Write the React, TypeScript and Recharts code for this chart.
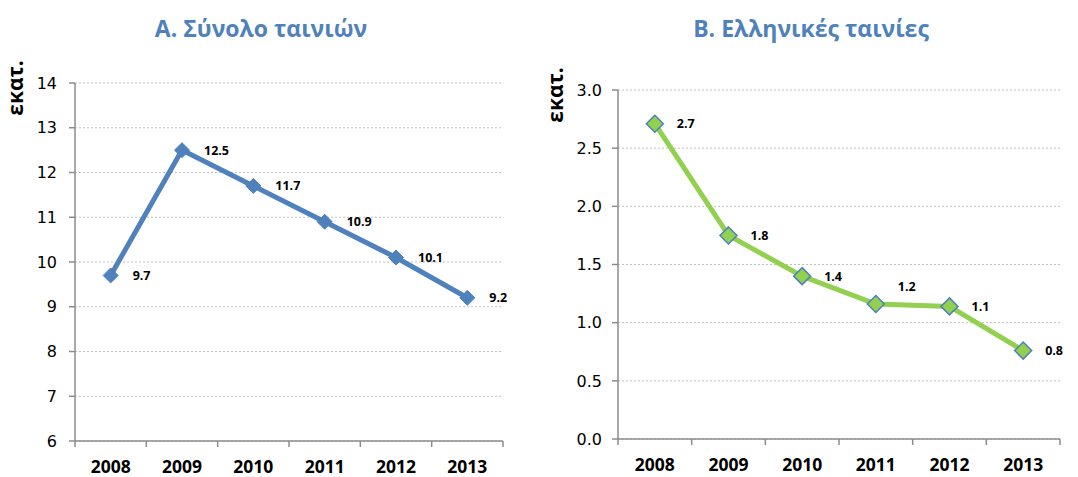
import React from 'react';
import { LineChart, Line, XAxis, YAxis, CartesianGrid, LabelList, Label } from 'recharts';

const years = ['2008', '2009', '2010', '2011', '2012', '2013'];
const totalFilms = [9.7, 12.5, 11.7, 10.9, 10.1, 9.2];
const greekFilms = [2.71, 1.75, 1.4, 1.16, 1.14, 0.76];
const totalTicks = [6, 7, 8, 9, 10, 11, 12, 13, 14];
const greekTicks = [0, 0.5, 1, 1.5, 2, 2.5, 3];
const titleA = 'Α. Σύνολο ταινιών';
const titleB = 'Β. Ελληνικές ταινίες';
const unitLabel = 'εκατ.';

const dataA = years.map((y, i) => ({ year: y, v: totalFilms[i] }));
const dataB = years.map((y, i) => ({ year: y, v: greekFilms[i] }));

const AXIS = '#8c8c8c';
const BLUE = '#4F81BD';
const GREEN = '#92D050';
const LABEL_FONT = "'Open Sans', 'Noto Sans', sans-serif";
const TICK_FONT = "'DejaVu Sans', sans-serif";

const makeXTick = (count: number) => (props: any) => {
  const { x, y, payload, index } = props;
  const off = payload && payload.offset ? payload.offset : 0;
  return (
    <g>
      <line x1={x - off} x2={x - off} y1={y} y2={y + 6} stroke={AXIS} strokeWidth={1.5} />
      {index === count - 1 ? (
        <line x1={x + off} x2={x + off} y1={y} y2={y + 6} stroke={AXIS} strokeWidth={1.5} />
      ) : null}
      <text x={x} y={y + 32} textAnchor="middle" fontFamily={LABEL_FONT} fontWeight={700} fontSize={17.5} fill="#000">
        {payload.value}
      </text>
    </g>
  );
};

const diamond = (fill: string, stroke: string, r: number, sw: number) => (props: any) => {
  const { cx, cy, index } = props;
  if (cx == null || cy == null) return <g key={index} />;
  return (
    <path
      key={index}
      d={`M${cx},${cy - r}L${cx + r},${cy}L${cx},${cy + r}L${cx - r},${cy}Z`}
      fill={fill}
      stroke={stroke}
      strokeWidth={sw}
    />
  );
};

const makeLabel = (liftIndex: number) => (props: any) => {
  const vb = props.viewBox || {};
  const x = vb.x != null ? vb.x : props.x;
  const y = vb.y != null ? vb.y : props.y;
  const dy = props.index === liftIndex ? -17 : 0;
  return (
    <text x={x + 22} y={y + dy} dy="0.35em" fontFamily={LABEL_FONT} fontWeight={700} fontSize={12.5} fill="#000">
      {Number(props.value).toFixed(1)}
    </text>
  );
};

const unitContent = (props: any) => {
  const vb = props.viewBox || {};
  const cx = (vb.x || 0) + 16;
  const cy = (vb.y || 0) + 5;
  return (
    <text
      x={cx}
      y={cy}
      transform={`rotate(-90 ${cx} ${cy})`}
      textAnchor="middle"
      dy="0.35em"
      fontFamily={LABEL_FONT}
      fontWeight={700}
      fontSize={21}
      fill="#000"
    >
      {unitLabel}
    </text>
  );
};

const titleStyle = (left: number, width: number): React.CSSProperties => ({
  position: 'absolute',
  left,
  width,
  top: 13,
  textAlign: 'center',
  fontFamily: LABEL_FONT,
  fontWeight: 700,
  fontSize: 23,
  lineHeight: '30px',
  color: BLUE,
});

export default function App() {
  return (
    <div style={{ position: 'absolute', left: 0, top: 0, width: 1078, height: 477, background: '#fff' }}>
      <div style={titleStyle(0, 522)}>{titleA}</div>
      <div style={titleStyle(540, 542)}>{titleB}</div>
      <div style={{ position: 'absolute', left: 0, top: 0 }}>
        <LineChart width={540} height={477} data={dataA} margin={{ top: 83, right: 37, bottom: 0, left: 0 }}>
          <CartesianGrid vertical={false} stroke="#c0c0c0" strokeDasharray="2 2" />
          <XAxis
            dataKey="year"
            type="category"
            scale="band"
            interval={0}
            height={36}
            axisLine={{ stroke: AXIS, strokeWidth: 1.5 }}
            tickLine={false}
            tickSize={0}
            tickMargin={0}
            tick={makeXTick(years.length)}
          />
          <YAxis
            type="number"
            domain={[6, 14]}
            ticks={totalTicks}
            interval={0}
            width={75}
            axisLine={{ stroke: AXIS, strokeWidth: 1.5 }}
            tickLine={{ stroke: AXIS, strokeWidth: 1.5 }}
            tickSize={6}
            tickMargin={12}
            tick={{ fontFamily: TICK_FONT, fontSize: 16, fill: '#000' }}
          >
            <Label content={unitContent} />
          </YAxis>
          <Line
            dataKey="v"
            stroke={BLUE}
            strokeWidth={5}
            isAnimationActive={false}
            dot={diamond(BLUE, BLUE, 7.5, 1)}
            activeDot={false}
          >
            <LabelList dataKey="v" content={makeLabel(-1)} />
          </Line>
        </LineChart>
      </div>
      <div style={{ position: 'absolute', left: 540, top: 0 }}>
        <LineChart width={538} height={477} data={dataB} margin={{ top: 90, right: 18, bottom: 2, left: 0 }}>
          <CartesianGrid vertical={false} stroke="#c0c0c0" strokeDasharray="2 2" />
          <XAxis
            dataKey="year"
            type="category"
            scale="band"
            interval={0}
            height={36}
            axisLine={{ stroke: AXIS, strokeWidth: 1.5 }}
            tickLine={false}
            tickSize={0}
            tickMargin={0}
            tick={makeXTick(years.length)}
          />
          <YAxis
            type="number"
            domain={[0, 3]}
            ticks={greekTicks}
            interval={0}
            width={78}
            axisLine={{ stroke: AXIS, strokeWidth: 1.5 }}
            tickLine={{ stroke: AXIS, strokeWidth: 1.5 }}
            tickSize={6}
            tickMargin={10}
            tickFormatter={(v: number) => v.toFixed(1)}
            tick={{ fontFamily: TICK_FONT, fontSize: 16, fill: '#000' }}
          >
            <Label content={unitContent} />
          </YAxis>
          <Line
            dataKey="v"
            stroke={GREEN}
            strokeWidth={5}
            isAnimationActive={false}
            dot={diamond(GREEN, BLUE, 8.5, 1.5)}
            activeDot={false}
          >
            <LabelList dataKey="v" content={makeLabel(3)} />
          </Line>
        </LineChart>
      </div>
    </div>
  );
}
